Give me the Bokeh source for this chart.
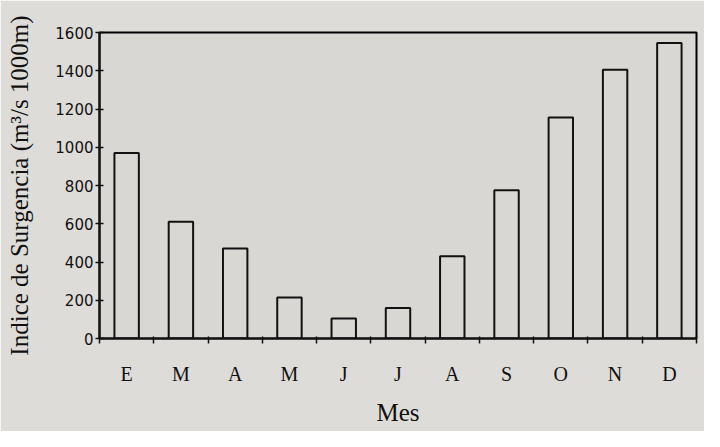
from bokeh.plotting import figure
from bokeh.models import FixedTicker, Range1d
from bokeh.embed import file_html
from bokeh.resources import INLINE

# Data
months = ["E", "M", "A", "M", "J", "J", "A", "S", "O", "N", "D"]
upwelling = [970, 610, 470, 215, 105, 160, 430, 775, 1155, 1405, 1545]
y_ticks = [0, 200, 400, 600, 800, 1000, 1200, 1400, 1600]

n = len(months)
centers = [i + 0.5 for i in range(n)]
bounds = [float(i) for i in range(n + 1)]

p = figure(width=704, height=431,
           x_range=Range1d(0, n), y_range=Range1d(y_ticks[0], y_ticks[-1]),
           output_backend="svg", toolbar_location=None,
           min_border_left=99, min_border_right=8,
           min_border_top=32, min_border_bottom=93)

p.background_fill_color = "#d9d7d3"
p.border_fill_color = "#dedcd9"
p.outline_line_color = "black"
p.outline_line_width = 2
p.xgrid.visible = False
p.ygrid.visible = False

p.vbar(x=centers, top=upwelling, bottom=0, width=0.45,
       fill_alpha=0, line_color="#111111", line_width=2)

# x axis
xa = p.xaxis[0]
xa.ticker = FixedTicker(ticks=centers, minor_ticks=bounds)
xa.major_label_overrides = {c: m for c, m in zip(centers, months)}
xa.major_tick_in = 0
xa.major_tick_out = 0
xa.minor_tick_in = 2
xa.minor_tick_out = 5
xa.minor_tick_line_color = "#111111"
xa.minor_tick_line_width = 1.5
xa.axis_line_color = "#111111"
xa.axis_line_width = 2
xa.major_label_standoff = 19
xa.major_label_text_font = "Liberation Serif"
xa.major_label_text_font_size = "20px"
xa.major_label_text_color = "#111111"
xa.axis_label = "Mes"
xa.axis_label_text_font = "Liberation Serif"
xa.axis_label_text_font_size = "25px"
xa.axis_label_text_font_style = "normal"
xa.axis_label_text_color = "#111111"
xa.axis_label_standoff = 11

# y axis
ya = p.yaxis[0]
ya.ticker = FixedTicker(ticks=y_ticks, minor_ticks=[])
ya.major_tick_in = 4
ya.major_tick_out = 4
ya.major_tick_line_color = "#111111"
ya.major_tick_line_width = 1.5
ya.axis_line_color = "#111111"
ya.axis_line_width = 2
ya.major_label_standoff = 2
ya.major_label_text_font = "DejaVu Sans"
ya.major_label_text_font_size = "15px"
ya.major_label_text_color = "#111111"
ya.axis_label = "Indice de Surgencia (m\u00b3/s 1000m)"
ya.axis_label_text_font = "Liberation Serif"
ya.axis_label_text_font_size = "25px"
ya.axis_label_text_font_style = "normal"
ya.axis_label_text_color = "#111111"
ya.axis_label_standoff = 19

open("out.html", "w").write(file_html(p, INLINE))
